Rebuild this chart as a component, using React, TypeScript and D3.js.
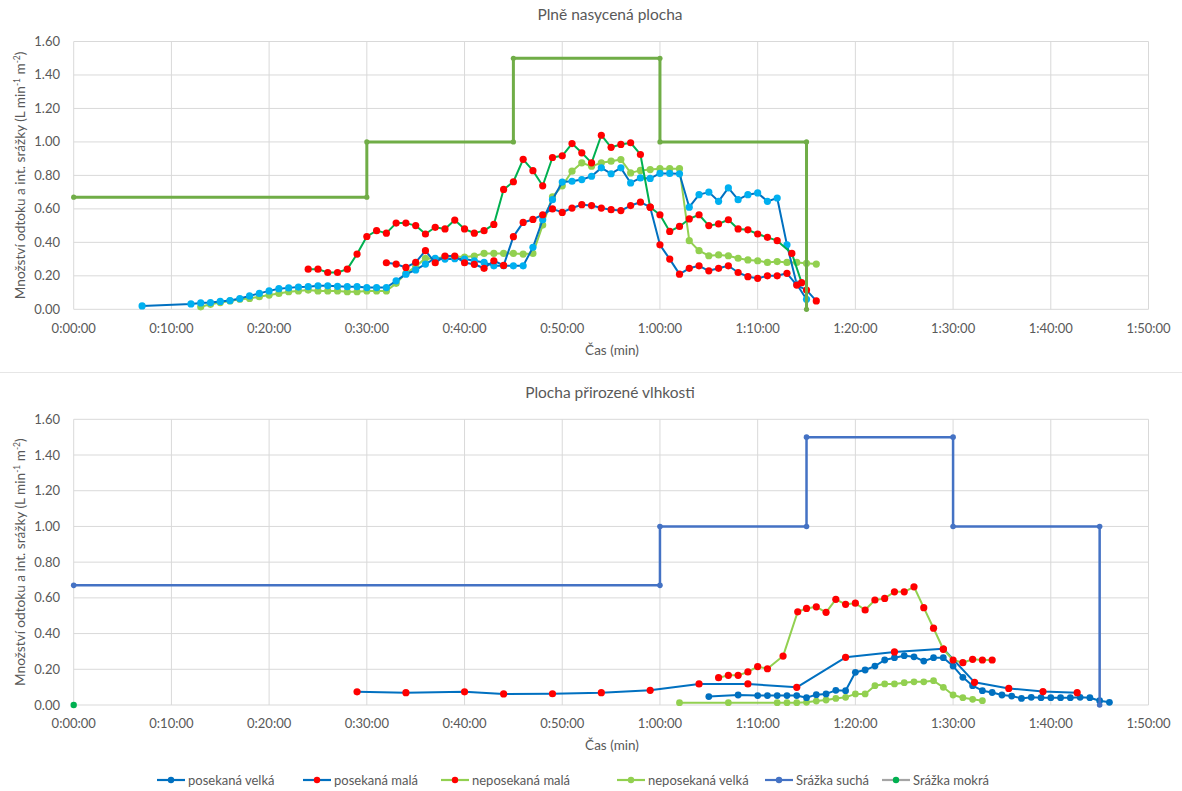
import React from 'react';
import * as d3 from 'd3';

const W = 1182;
const H = 791;
const FONT = "Lato, 'Open Sans', sans-serif";
const TEXT = '#595959';
const GRID = '#D9D9D9';

// ---------- axes ----------
const xTickMinutes = [0, 10, 20, 30, 40, 50, 60, 70, 80, 90, 100, 110];
const xTickLabels = ['0:00:00', '0:10:00', '0:20:00', '0:30:00', '0:40:00', '0:50:00', '1:00:00', '1:10:00', '1:20:00', '1:30:00', '1:40:00', '1:50:00'];
const yTickValues = [0, 0.2, 0.4, 0.6, 0.8, 1.0, 1.2, 1.4, 1.6];
const yTickLabels = ['0.00', '0.20', '0.40', '0.60', '0.80', '1.00', '1.20', '1.40', '1.60'];
const legendLabels = ['posekaná velká', 'posekaná malá', 'neposekaná malá', 'neposekaná velká', 'Srážka suchá', 'Srážka mokrá'];
const titles = ['Plně nasycená plocha', 'Plocha přirozené vlhkosti'];

// ---------- top chart (Plně nasycená plocha), [minute, value] ----------
const topPosekanaVelka: [number, number][] = [
  [7, 0.02], [12, 0.032], [13, 0.038], [14, 0.04], [15, 0.047], [16, 0.052], [17, 0.064], [18, 0.08], [19, 0.095], [20, 0.11],
  [21, 0.123], [22, 0.128], [23, 0.133], [24, 0.135], [25, 0.14], [26, 0.14], [27, 0.137], [28, 0.135], [29, 0.135], [30, 0.13],
  [31, 0.13], [32, 0.13], [33, 0.17], [34, 0.21], [35, 0.235], [36, 0.27], [37, 0.305], [38, 0.3], [39, 0.302], [40, 0.3],
  [41, 0.29], [42, 0.28], [43, 0.26], [44, 0.26], [45, 0.26], [46, 0.26], [47, 0.37], [48, 0.535], [49, 0.655], [50, 0.76],
  [51, 0.765], [52, 0.775], [53, 0.795], [54, 0.845], [55, 0.81], [56, 0.845], [57, 0.755], [58, 0.785], [59, 0.782], [60, 0.812],
  [61, 0.812], [62, 0.81], [63, 0.61], [64, 0.685], [65, 0.7], [66, 0.645], [67, 0.725], [68, 0.655], [69, 0.685], [70, 0.695],
  [71, 0.645], [72, 0.665], [73, 0.385], [74, 0.15], [75, 0.06],
];
const topPosekanaMala: [number, number][] = [
  [32, 0.278], [33, 0.27], [34, 0.25], [35, 0.28], [36, 0.35], [37, 0.278], [38, 0.318], [39, 0.318], [40, 0.278],
  [41, 0.269], [42, 0.245], [43, 0.29], [44, 0.262], [45, 0.434], [46, 0.519], [47, 0.537], [48, 0.565], [49, 0.6], [50, 0.579],
  [51, 0.605], [52, 0.625], [53, 0.62], [54, 0.605], [55, 0.595], [56, 0.59], [57, 0.62], [58, 0.64], [59, 0.61], [60, 0.385],
  [61, 0.3], [62, 0.21], [63, 0.245], [64, 0.26], [65, 0.23], [66, 0.245], [67, 0.26], [68, 0.22], [69, 0.195], [70, 0.185],
  [71, 0.2], [72, 0.2], [73, 0.215], [74, 0.145], [75, 0.115], [76, 0.05],
];
const topNeposekanaMala: [number, number][] = [
  [24, 0.24], [25, 0.24], [26, 0.22], [27, 0.22], [28, 0.24], [29, 0.33], [30, 0.435],
  [31, 0.47], [32, 0.455], [33, 0.515], [34, 0.515], [35, 0.5], [36, 0.45], [37, 0.49], [38, 0.48], [39, 0.533], [40, 0.48],
  [41, 0.455], [42, 0.47], [43, 0.507], [44, 0.716], [45, 0.762], [46, 0.896], [47, 0.828], [48, 0.738], [49, 0.907], [50, 0.917],
  [51, 0.99], [52, 0.935], [53, 0.875], [54, 1.04], [55, 0.968], [56, 0.985], [57, 0.995], [58, 0.925], [59, 0.61], [60, 0.565],
  [61, 0.465], [62, 0.495], [63, 0.54], [64, 0.565], [65, 0.5], [66, 0.51], [67, 0.535], [68, 0.48], [69, 0.475], [70, 0.45],
  [71, 0.43], [72, 0.41], [73.5, 0.334], [74.5, 0.159],
];
const topNeposekanaVelka: [number, number][] = [
  [13, 0.015], [14, 0.03], [15, 0.04], [16, 0.05], [17, 0.06], [18, 0.065], [19, 0.075], [20, 0.085],
  [21, 0.095], [22, 0.105], [23, 0.11], [24, 0.115], [25, 0.11], [26, 0.11], [27, 0.11], [28, 0.105], [29, 0.105], [30, 0.11],
  [31, 0.11], [32, 0.11], [33, 0.155], [34, 0.215], [35, 0.255], [36, 0.305], [37, 0.3], [38, 0.315], [39, 0.315], [40, 0.312],
  [41, 0.318], [42, 0.334], [43, 0.334], [44, 0.334], [45, 0.334], [46, 0.33], [47, 0.334], [48, 0.503], [49, 0.672], [50, 0.738],
  [51, 0.825], [52, 0.875], [53, 0.855], [54, 0.875], [55, 0.885], [56, 0.895], [57, 0.815], [58, 0.83], [59, 0.835], [60, 0.84],
  [61, 0.84], [62, 0.84], [63, 0.41], [64, 0.35], [65, 0.32], [66, 0.325], [67, 0.32], [68, 0.305], [69, 0.295], [70, 0.29],
  [71, 0.28], [72, 0.285], [73, 0.28], [74, 0.28], [75, 0.275], [76, 0.27],
];
const topSrazka: [number, number][] = [
  [0, 0.67], [30, 0.67], [30, 1.0], [45, 1.0], [45, 1.5], [60, 1.5], [60, 1.0], [75, 1.0], [75, 0],
];

// ---------- bottom chart (Plocha přirozené vlhkosti) ----------
const botPosekanaVelka: [number, number][] = [
  [65, 0.047], [68, 0.056], [70, 0.053], [71, 0.053], [72, 0.053], [73, 0.053], [74, 0.053], [75, 0.041], [76, 0.058],
  [77, 0.062], [78, 0.082], [79, 0.08], [80, 0.183], [81, 0.196], [82, 0.218], [83, 0.252], [84, 0.265], [85, 0.276],
  [86, 0.27], [87, 0.246], [88, 0.265], [89, 0.265], [90, 0.218], [91, 0.155], [92, 0.108], [93, 0.08], [94, 0.07],
  [95, 0.056], [96, 0.05], [97, 0.037], [98, 0.043], [99, 0.041], [100, 0.041], [101, 0.041], [102, 0.041], [103, 0.043],
  [104, 0.041], [105, 0.024], [106, 0.015],
];
const botPosekanaMala: [number, number][] = [
  [29, 0.074], [34, 0.069], [40, 0.074], [44, 0.062], [49, 0.063], [54, 0.069], [59, 0.082], [64, 0.118], [69, 0.118],
  [74, 0.099], [79, 0.267], [84, 0.297], [89, 0.315], [92.2, 0.127], [95.7, 0.093], [99.2, 0.075], [102.7, 0.069],
];
const botNeposekanaMala: [number, number][] = [
  [66, 0.153], [67, 0.166], [68, 0.166], [69, 0.185], [70, 0.215], [71, 0.203], [72.6, 0.274], [74.1, 0.522], [75, 0.541],
  [76, 0.55], [77, 0.519], [78, 0.592], [79, 0.564], [80, 0.57], [81, 0.532], [82, 0.588], [83, 0.597], [84, 0.634],
  [85, 0.634], [86, 0.662], [87, 0.545], [88, 0.43], [89, 0.312], [90, 0.252], [91, 0.237], [92, 0.256], [93, 0.252], [94, 0.252],
];
const botNeposekanaVelka: [number, number][] = [
  [62, 0.013], [67, 0.013], [72, 0.013], [73, 0.013], [74, 0.013], [75, 0.015], [76, 0.022], [77, 0.028], [78, 0.037],
  [79, 0.043], [80, 0.062], [81, 0.062], [82, 0.108], [83, 0.118], [84, 0.118], [85, 0.125], [86, 0.13], [87, 0.13],
  [88, 0.136], [89, 0.099], [90, 0.056], [91, 0.041], [92, 0.032], [93, 0.024],
];
const botSrazkaSucha: [number, number][] = [
  [0, 0.67], [60, 0.67], [60, 1.0], [75, 1.0], [75, 1.5], [90, 1.5], [90, 1.0], [105, 1.0], [105, 0],
];
const botSrazkaMokra: [number, number][] = [[0, 0]];

type Series = { data: [number, number][]; line: string | null; marker: string; lw: number; r: number };

const topSeries: Series[] = [
  { data: topNeposekanaVelka, line: '#92D050', marker: '#92D050', lw: 2, r: 3.6 },
  { data: topPosekanaVelka, line: '#0070C0', marker: '#00B0F0', lw: 2, r: 3.6 },
  { data: topPosekanaMala, line: '#0070C0', marker: '#FF0000', lw: 2, r: 3.6 },
  { data: topNeposekanaMala, line: '#00B050', marker: '#FF0000', lw: 2, r: 3.6 },
  { data: topSrazka, line: '#70AD47', marker: '#70AD47', lw: 3, r: 2.6 },
];
const botSeries: Series[] = [
  { data: botNeposekanaVelka, line: '#92D050', marker: '#92D050', lw: 2, r: 3.4 },
  { data: botPosekanaVelka, line: '#0070C0', marker: '#0070C0', lw: 2, r: 3.4 },
  { data: botPosekanaMala, line: '#0070C0', marker: '#FF0000', lw: 2, r: 3.6 },
  { data: botNeposekanaMala, line: '#92D050', marker: '#FF0000', lw: 2, r: 3.6 },
  { data: botSrazkaSucha, line: '#4472C4', marker: '#4472C4', lw: 2.5, r: 2.8 },
  { data: botSrazkaMokra, line: null, marker: '#00B050', lw: 2, r: 3.2 },
];

const legendItems = [
  { label: legendLabels[0], line: '#0070C0', marker: '#0070C0', x: 157 },
  { label: legendLabels[1], line: '#0070C0', marker: '#FF0000', x: 303 },
  { label: legendLabels[2], line: '#92D050', marker: '#FF0000', x: 441 },
  { label: legendLabels[3], line: '#92D050', marker: '#92D050', x: 617 },
  { label: legendLabels[4], line: '#4472C4', marker: '#4472C4', x: 765 },
  { label: legendLabels[5], line: '#A5A5A5', marker: '#00B050', x: 882 },
];

const X0 = 73.7;
const X1 = 1148.5;

function Chart(props: { title: string; yTop: number; yBot: number; titleY: number; tickY: number; axisY: number; series: Series[] }) {
  const { title, yTop, yBot, titleY, tickY, axisY, series } = props;
  const x = d3.scaleLinear().domain([0, 110]).range([X0, X1]);
  const y = d3.scaleLinear().domain([0, 1.6]).range([yBot, yTop]);
  const line = d3.line<[number, number]>().x((d) => x(d[0])).y((d) => y(d[1]));
  const yMid = (yTop + yBot) / 2;
  return (
    <g>
      <text x={610} y={titleY} textAnchor="middle" fontSize={15.5} fill={TEXT} fontFamily={FONT}>{title}</text>
      {yTickValues.map((v, i) => (
        <g key={'y' + i}>
          <line x1={X0} x2={X1} y1={y(v)} y2={y(v)} stroke={GRID} strokeWidth={1} />
          <text x={60} y={y(v) + 4.5} textAnchor="end" fontSize={13} fill={TEXT} fontFamily={FONT}>{yTickLabels[i]}</text>
        </g>
      ))}
      {xTickMinutes.map((m, i) => (
        <g key={'x' + i}>
          <line x1={x(m)} x2={x(m)} y1={yTop} y2={yBot} stroke={GRID} strokeWidth={1} />
          <text x={x(m)} y={tickY} textAnchor="middle" fontSize={13} fill={TEXT} fontFamily={FONT}>{xTickLabels[i]}</text>
        </g>
      ))}
      <text x={612} y={axisY} textAnchor="middle" fontSize={13.5} fill={TEXT} fontFamily={FONT}>Čas (min)</text>
      <text transform={`translate(24.5, ${yMid}) rotate(-90)`} textAnchor="middle" fontSize={13.6} fill={TEXT} fontFamily={FONT}>
        Množství odtoku a int. srážky (L min<tspan dy={-5} fontSize={8.5}>-1</tspan><tspan dy={5}> m</tspan><tspan dy={-5} fontSize={8.5}>-2</tspan><tspan dy={5}>)</tspan>
      </text>
      {series.map((s, i) => (
        <g key={'s' + i}>
          {s.line && s.data.length > 1 && (
            <path d={line(s.data) || ''} fill="none" stroke={s.line} strokeWidth={s.lw} strokeLinejoin="round" />
          )}
          {s.data.map((d, j) => (
            <circle key={j} cx={x(d[0])} cy={y(d[1])} r={s.r} fill={s.marker} />
          ))}
        </g>
      ))}
    </g>
  );
}

export default function App() {
  return (
    <svg width={W} height={H} style={{ position: 'absolute', left: 0, top: 0, background: '#fff' }} xmlns="http://www.w3.org/2000/svg">
      <rect x={0} y={0} width={W} height={H} fill="#fff" />
      <Chart title={titles[0]} yTop={41.5} yBot={309.3} titleY={20} tickY={333} axisY={355} series={topSeries} />
      <line x1={0} x2={W} y1={372.5} y2={372.5} stroke="#E6E6E6" strokeWidth={1} />
      <Chart title={titles[1]} yTop={419.3} yBot={705} titleY={398} tickY={728} axisY={750} series={botSeries} />
      {legendItems.map((it, i) => (
        <g key={'l' + i}>
          <line x1={it.x} x2={it.x + 28} y1={780} y2={780} stroke={it.line} strokeWidth={2.2} />
          <circle cx={it.x + 14} cy={780} r={3.2} fill={it.marker} />
          <text x={it.x + 31} y={784.5} fontSize={13} fill={TEXT} fontFamily={FONT}>{it.label}</text>
        </g>
      ))}
    </svg>
  );
}
